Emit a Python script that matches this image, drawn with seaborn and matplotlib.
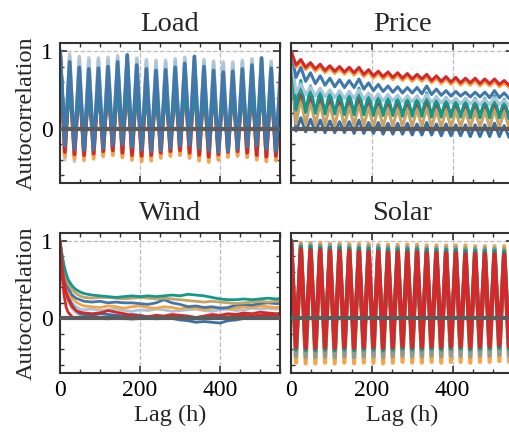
import matplotlib
matplotlib.use('Agg')
import matplotlib.pyplot as plt
import seaborn as sns
import pandas as pd
from matplotlib.ticker import MultipleLocator

RED = '#d3292b'
BLUE = '#4178ac'
TEAL = '#12998b'
ORANGE = '#f6a445'
TAN = '#c9a264'
LBLUE = '#a8c6da'
GRAY = '#c5c8cb'
DBLUE = '#3a6fa5'
SGRAY = '#8f9c96'

# lags (h): daily peaks at 0, 24, 48 ... and troughs at 12, 36, ...
day_lags = list(range(0, 553, 12))

# ---- Load: daily peaks / troughs ----
load_gray_pk = [1.00, 0.96, 0.93, 0.91, 0.91, 0.92, 0.94, 0.95, 0.91, 0.89, 0.88, 0.88, 0.90, 0.92, 0.93, 0.89, 0.87, 0.86, 0.86, 0.88, 0.90, 0.91, 0.87, 0.85]
load_gray_tr = [-0.40, -0.42, -0.41, -0.39, -0.36, -0.34, -0.37, -0.40, -0.42, -0.41, -0.38, -0.35, -0.34, -0.38, -0.41, -0.42, -0.40, -0.37, -0.35, -0.36, -0.39, -0.42, -0.41]
load_lblue_pk = [1.00, 0.92, 0.89, 0.87, 0.87, 0.88, 0.90, 0.92, 0.88, 0.86, 0.85, 0.85, 0.87, 0.89, 0.90, 0.86, 0.84, 0.83, 0.83, 0.85, 0.87, 0.88, 0.84, 0.82]
load_lblue_tr = [-0.30, -0.32, -0.31, -0.29, -0.27, -0.26, -0.28, -0.31, -0.33, -0.32, -0.29, -0.27, -0.26, -0.29, -0.32, -0.33, -0.31, -0.28, -0.27, -0.28, -0.31, -0.33, -0.32]
load_tan_pk = [1.00, 0.80, 0.77, 0.76, 0.76, 0.77, 0.78, 0.80, 0.76, 0.75, 0.74, 0.74, 0.75, 0.76, 0.78, 0.74, 0.73, 0.72, 0.72, 0.73, 0.74, 0.76, 0.72, 0.71]
load_tan_tr = [-0.33, -0.36, -0.37, -0.35, -0.32, -0.31, -0.34, -0.36, -0.38, -0.37, -0.34, -0.32, -0.31, -0.34, -0.37, -0.38, -0.36, -0.33, -0.32, -0.33, -0.36, -0.38, -0.37]
load_orange_pk = [1.00, 0.74, 0.70, 0.68, 0.68, 0.69, 0.71, 0.74, 0.69, 0.67, 0.66, 0.66, 0.68, 0.70, 0.72, 0.67, 0.65, 0.64, 0.64, 0.66, 0.68, 0.70, 0.66, 0.64]
load_orange_tr = [-0.36, -0.39, -0.40, -0.38, -0.35, -0.34, -0.37, -0.40, -0.42, -0.41, -0.37, -0.35, -0.34, -0.37, -0.41, -0.43, -0.40, -0.36, -0.35, -0.37, -0.40, -0.42, -0.41]
load_red_pk = [1.00, 0.64, 0.60, 0.58, 0.58, 0.59, 0.61, 0.64, 0.59, 0.57, 0.56, 0.56, 0.58, 0.60, 0.62, 0.58, 0.56, 0.55, 0.55, 0.57, 0.59, 0.61, 0.57, 0.55]
load_red_tr = [-0.30, -0.33, -0.34, -0.32, -0.29, -0.28, -0.31, -0.34, -0.35, -0.34, -0.31, -0.29, -0.28, -0.31, -0.34, -0.36, -0.33, -0.30, -0.29, -0.31, -0.34, -0.36, -0.35]
load_teal_pk = [1.00, 0.56, 0.52, 0.50, 0.50, 0.51, 0.53, 0.56, 0.51, 0.49, 0.48, 0.48, 0.50, 0.52, 0.54, 0.50, 0.48, 0.47, 0.47, 0.49, 0.51, 0.53, 0.49, 0.47]
load_teal_tr = [-0.14, -0.16, -0.17, -0.15, -0.13, -0.12, -0.14, -0.16, -0.18, -0.17, -0.15, -0.13, -0.12, -0.15, -0.17, -0.18, -0.16, -0.14, -0.13, -0.14, -0.16, -0.18, -0.17]
load_blue_pk = [1.00, 0.86, 0.79, 0.77, 0.78, 0.80, 0.86, 0.95, 0.82, 0.77, 0.75, 0.76, 0.79, 0.84, 0.93, 0.80, 0.75, 0.73, 0.74, 0.77, 0.82, 0.91, 0.78, 0.73]
load_blue_tr = [-0.22, -0.26, -0.28, -0.27, -0.25, -0.21, -0.20, -0.24, -0.27, -0.29, -0.28, -0.25, -0.22, -0.21, -0.25, -0.28, -0.30, -0.29, -0.26, -0.23, -0.22, -0.26, -0.29]

# ---- Price ----
price_dblue_pk = [1.00, 0.14, 0.12, 0.11, 0.10, 0.09, 0.09, 0.11, 0.08, 0.08, 0.07, 0.07, 0.07, 0.06, 0.08, 0.06, 0.06, 0.05, 0.05, 0.05, 0.05, 0.07, 0.04, 0.04]
price_dblue_tr = [-0.03, -0.04, -0.04, -0.05, -0.05, -0.05, -0.06, -0.06, -0.06, -0.07, -0.07, -0.07, -0.08, -0.08, -0.08, -0.09, -0.09, -0.09, -0.10, -0.10, -0.10, -0.10, -0.11]
price_tan_pk = [1.00, 0.40, 0.36, 0.33, 0.31, 0.30, 0.29, 0.33, 0.28, 0.27, 0.26, 0.26, 0.25, 0.25, 0.28, 0.24, 0.24, 0.23, 0.23, 0.23, 0.23, 0.25, 0.22, 0.22]
price_tan_tr = [0.06, 0.05, 0.05, 0.04, 0.04, 0.04, 0.04, 0.03, 0.03, 0.03, 0.03, 0.03, 0.03, 0.03, 0.02, 0.02, 0.02, 0.02, 0.02, 0.02, 0.02, 0.02, 0.02]
price_red2_pk = [1.00, 0.45, 0.41, 0.39, 0.37, 0.36, 0.36, 0.39, 0.35, 0.34, 0.33, 0.33, 0.32, 0.32, 0.35, 0.31, 0.31, 0.30, 0.30, 0.30, 0.30, 0.32, 0.29, 0.29]
price_red2_tr = [0.28, 0.26, 0.25, 0.24, 0.24, 0.23, 0.23, 0.23, 0.22, 0.22, 0.21, 0.21, 0.21, 0.20, 0.20, 0.20, 0.20, 0.19, 0.19, 0.19, 0.19, 0.18, 0.18]
price_teal_pk = [1.00, 0.62, 0.55, 0.51, 0.49, 0.48, 0.47, 0.52, 0.45, 0.44, 0.43, 0.42, 0.42, 0.42, 0.46, 0.41, 0.40, 0.39, 0.39, 0.39, 0.39, 0.42, 0.38, 0.37]
price_teal_tr = [0.24, 0.21, 0.20, 0.19, 0.19, 0.18, 0.18, 0.18, 0.17, 0.17, 0.17, 0.16, 0.16, 0.16, 0.15, 0.15, 0.15, 0.15, 0.14, 0.14, 0.14, 0.14, 0.13]
price_lblue_pk = [1.00, 0.58, 0.54, 0.52, 0.50, 0.49, 0.48, 0.50, 0.46, 0.45, 0.44, 0.43, 0.42, 0.42, 0.44, 0.41, 0.40, 0.39, 0.39, 0.38, 0.38, 0.40, 0.37, 0.36]
price_lblue_tr = [0.46, 0.44, 0.42, 0.41, 0.40, 0.39, 0.39, 0.38, 0.37, 0.36, 0.36, 0.35, 0.35, 0.34, 0.34, 0.33, 0.33, 0.32, 0.32, 0.31, 0.31, 0.31, 0.30]
price_blue_pk = [1.00, 0.79, 0.72, 0.68, 0.65, 0.63, 0.62, 0.64, 0.59, 0.57, 0.55, 0.54, 0.53, 0.53, 0.55, 0.51, 0.49, 0.48, 0.47, 0.47, 0.47, 0.49, 0.46, 0.45]
price_blue_tr = [0.66, 0.61, 0.58, 0.56, 0.54, 0.53, 0.53, 0.51, 0.49, 0.48, 0.47, 0.46, 0.46, 0.45, 0.44, 0.43, 0.42, 0.42, 0.41, 0.41, 0.40, 0.40, 0.39]
price_orange_pk = [1.00, 0.86, 0.82, 0.80, 0.78, 0.77, 0.76, 0.76, 0.73, 0.71, 0.70, 0.69, 0.68, 0.67, 0.67, 0.65, 0.64, 0.63, 0.62, 0.62, 0.61, 0.61, 0.59, 0.58]
price_orange_tr = [0.79, 0.76, 0.74, 0.72, 0.71, 0.70, 0.69, 0.67, 0.65, 0.64, 0.63, 0.62, 0.61, 0.61, 0.59, 0.58, 0.57, 0.56, 0.56, 0.55, 0.55, 0.54, 0.53]
price_red_pk = [1.00, 0.89, 0.85, 0.83, 0.81, 0.80, 0.79, 0.79, 0.76, 0.74, 0.73, 0.72, 0.71, 0.70, 0.70, 0.68, 0.67, 0.66, 0.65, 0.65, 0.64, 0.64, 0.62, 0.61]
price_red_tr = [0.82, 0.79, 0.77, 0.75, 0.74, 0.73, 0.72, 0.70, 0.68, 0.67, 0.66, 0.65, 0.64, 0.64, 0.62, 0.61, 0.60, 0.59, 0.59, 0.58, 0.58, 0.57, 0.56]

# ---- Solar ----
solar_orange_pk = [1.00, 0.97, 0.97, 0.97, 0.96, 0.96, 0.96, 0.96, 0.96, 0.95, 0.95, 0.95, 0.95, 0.95, 0.94, 0.94, 0.94, 0.94, 0.94, 0.93, 0.93, 0.93, 0.93, 0.93]
solar_orange_tr = [-0.57, -0.58, -0.58, -0.57, -0.58, -0.57, -0.58, -0.57, -0.57, -0.58, -0.57, -0.56, -0.57, -0.57, -0.56, -0.57, -0.56, -0.56, -0.57, -0.56, -0.56, -0.55, -0.56]
solar_gray_pk = [1.00, 0.95, 0.95, 0.94, 0.94, 0.94, 0.93, 0.93, 0.93, 0.93, 0.92, 0.92, 0.92, 0.92, 0.91, 0.91, 0.91, 0.91, 0.90, 0.90, 0.90, 0.90, 0.89, 0.89]
solar_gray_tr = [-0.49, -0.50, -0.50, -0.49, -0.50, -0.49, -0.50, -0.49, -0.49, -0.50, -0.49, -0.48, -0.49, -0.49, -0.48, -0.49, -0.48, -0.48, -0.49, -0.48, -0.48, -0.47, -0.48]
solar_teal_pk = [1.00, 0.92, 0.92, 0.91, 0.91, 0.91, 0.90, 0.90, 0.90, 0.90, 0.89, 0.89, 0.89, 0.89, 0.88, 0.88, 0.88, 0.88, 0.87, 0.87, 0.87, 0.87, 0.86, 0.86]
solar_teal_tr = [-0.40, -0.41, -0.41, -0.40, -0.41, -0.40, -0.41, -0.40, -0.40, -0.41, -0.40, -0.39, -0.40, -0.40, -0.39, -0.40, -0.39, -0.39, -0.40, -0.39, -0.39, -0.38, -0.39]
solar_red_pk = [1.00, 0.89, 0.88, 0.88, 0.87, 0.87, 0.87, 0.86, 0.86, 0.86, 0.85, 0.85, 0.85, 0.85, 0.84, 0.84, 0.84, 0.84, 0.83, 0.83, 0.83, 0.83, 0.82, 0.82]
solar_red_tr = [-0.37, -0.38, -0.38, -0.37, -0.38, -0.37, -0.38, -0.37, -0.37, -0.38, -0.37, -0.36, -0.37, -0.37, -0.36, -0.37, -0.36, -0.36, -0.37, -0.36, -0.36, -0.35, -0.36]

# ---- Wind (no daily cycle) ----
wind_lags = [0, 5, 10, 15, 20, 30, 40, 50, 60, 80, 100, 120, 140, 160, 180, 200, 220, 240, 260, 280, 300, 320, 340, 360, 380, 400, 420, 440, 460, 480, 500, 520, 540, 560]
wind_gray = [1.0, 0.66, 0.45, 0.32, 0.22, 0.12, 0.07, 0.04, 0.03, 0.02, 0.00, -0.01, 0.01, 0.00, -0.02, 0.00, 0.01, -0.01, 0.00, 0.02, 0.01, 0.00, -0.01, 0.00, 0.01, 0.02, 0.00, 0.01, 0.03, 0.02, 0.04, 0.03, 0.05, 0.04]
wind_lblue = [1.0, 0.70, 0.50, 0.38, 0.30, 0.20, 0.15, 0.12, 0.11, 0.12, 0.10, 0.11, 0.12, 0.10, 0.09, 0.11, 0.10, 0.12, 0.11, 0.09, 0.10, 0.11, 0.12, 0.10, 0.09, 0.11, 0.12, 0.10, 0.11, 0.13, 0.12, 0.13, 0.12, 0.13]
wind_dblue = [1.0, 0.70, 0.50, 0.37, 0.28, 0.17, 0.10, 0.06, 0.05, 0.04, 0.06, 0.05, 0.04, 0.03, 0.05, 0.04, 0.02, 0.03, 0.01, 0.00, -0.02, -0.03, -0.05, -0.04, -0.05, -0.06, -0.03, -0.02, 0.00, 0.02, 0.01, 0.03, 0.04, 0.03]
wind_orange = [1.0, 0.73, 0.55, 0.43, 0.35, 0.26, 0.21, 0.18, 0.16, 0.15, 0.14, 0.16, 0.15, 0.13, 0.15, 0.16, 0.14, 0.13, 0.15, 0.14, 0.12, 0.14, 0.13, 0.11, 0.13, 0.14, 0.12, 0.13, 0.15, 0.14, 0.16, 0.15, 0.14, 0.15]
wind_red2 = [1.0, 0.55, 0.30, 0.15, 0.08, 0.02, 0.00, 0.00, 0.01, 0.00, 0.01, 0.00, 0.02, 0.01, 0.00, 0.01, 0.02, 0.01, 0.00, 0.02, 0.01, 0.00, 0.01, 0.02, 0.01, 0.03, 0.02, 0.03, 0.04, 0.03, 0.04, 0.05, 0.04, 0.05]
wind_blue = [1.0, 0.75, 0.58, 0.47, 0.39, 0.30, 0.26, 0.24, 0.22, 0.21, 0.22, 0.20, 0.21, 0.20, 0.20, 0.19, 0.18, 0.20, 0.24, 0.20, 0.18, 0.15, 0.16, 0.14, 0.15, 0.13, 0.14, 0.17, 0.18, 0.17, 0.19, 0.20, 0.19, 0.20]
wind_tan = [1.0, 0.78, 0.63, 0.53, 0.45, 0.37, 0.32, 0.29, 0.27, 0.26, 0.27, 0.27, 0.26, 0.25, 0.26, 0.27, 0.26, 0.25, 0.26, 0.25, 0.24, 0.23, 0.22, 0.21, 0.22, 0.21, 0.20, 0.19, 0.20, 0.21, 0.22, 0.21, 0.22, 0.22]
wind_teal = [1.0, 0.82, 0.68, 0.58, 0.50, 0.42, 0.37, 0.34, 0.32, 0.30, 0.29, 0.28, 0.27, 0.28, 0.29, 0.28, 0.29, 0.28, 0.29, 0.30, 0.29, 0.31, 0.30, 0.29, 0.27, 0.25, 0.24, 0.24, 0.25, 0.24, 0.25, 0.26, 0.25, 0.26]
wind_red = [1.0, 0.68, 0.47, 0.34, 0.25, 0.15, 0.10, 0.08, 0.07, 0.06, 0.07, 0.10, 0.08, 0.06, 0.04, 0.03, 0.02, 0.04, 0.03, 0.05, 0.04, 0.03, 0.01, 0.03, 0.05, 0.04, 0.06, 0.05, 0.07, 0.06, 0.08, 0.07, 0.06, 0.07]


def zigzag(pk, tr):
    vals = []
    for i, p in enumerate(pk):
        vals.append(p)
        if i < len(tr):
            vals.append(tr[i])
    return vals


def long_df(lags, series):
    rows = []
    for name, vals, _ in series:
        for l, v in zip(lags, vals):
            rows.append({'lag': l, 'acf': v, 'serie': name})
    return pd.DataFrame(rows)


load_series = [
    ('gray', zigzag(load_gray_pk, load_gray_tr), GRAY),
    ('lblue', zigzag(load_lblue_pk, load_lblue_tr), LBLUE),
    ('tan', zigzag(load_tan_pk, load_tan_tr), TAN),
    ('orange', zigzag(load_orange_pk, load_orange_tr), ORANGE),
    ('red', zigzag(load_red_pk, load_red_tr), RED),
    ('teal', zigzag(load_teal_pk, load_teal_tr), TEAL),
    ('blue', zigzag(load_blue_pk, load_blue_tr), BLUE),
]
price_series = [
    ('dblue', zigzag(price_dblue_pk, price_dblue_tr), DBLUE),
    ('tan', zigzag(price_tan_pk, price_tan_tr), TAN),
    ('red2', zigzag(price_red2_pk, price_red2_tr), RED),
    ('teal', zigzag(price_teal_pk, price_teal_tr), TEAL),
    ('lblue', zigzag(price_lblue_pk, price_lblue_tr), LBLUE),
    ('blue', zigzag(price_blue_pk, price_blue_tr), BLUE),
    ('orange', zigzag(price_orange_pk, price_orange_tr), ORANGE),
    ('red', zigzag(price_red_pk, price_red_tr), RED),
]
wind_series = [
    ('gray', wind_gray, GRAY),
    ('lblue', wind_lblue, LBLUE),
    ('dblue', wind_dblue, DBLUE),
    ('orange', wind_orange, ORANGE),
    ('red2', wind_red2, RED),
    ('blue', wind_blue, BLUE),
    ('tan', wind_tan, TAN),
    ('teal', wind_teal, TEAL),
    ('red', wind_red, RED),
]
solar_series = [
    ('orange', zigzag(solar_orange_pk, solar_orange_tr), ORANGE),
    ('gray', zigzag(solar_gray_pk, solar_gray_tr), SGRAY),
    ('teal', zigzag(solar_teal_pk, solar_teal_tr), TEAL),
    ('red', zigzag(solar_red_pk, solar_red_tr), RED),
]

sns.set_theme(style='ticks')
plt.rcParams['font.family'] = ['Liberation Serif', 'DejaVu Serif']

fig = plt.figure(figsize=(5.09, 4.37), dpi=100)
W, H = 0.432, 0.320
axes = {
    'Load': fig.add_axes([0.118, 0.581, W, H]),
    'Price': fig.add_axes([0.572, 0.581, 0.436, H]),
    'Wind': fig.add_axes([0.118, 0.147, W, H]),
    'Solar': fig.add_axes([0.572, 0.147, 0.436, H]),
}
panels = [('Load', day_lags, load_series, 2.6), ('Price', day_lags, price_series, 2.2),
          ('Wind', wind_lags, wind_series, 2.0), ('Solar', day_lags, solar_series, 3.0)]

for title, lags, series, lw in panels:
    ax = axes[title]
    df = long_df(lags, series)
    pal = {n: c for n, _, c in series}
    sns.lineplot(data=df, x='lag', y='acf', hue='serie', palette=pal,
                 hue_order=[n for n, _, _ in series], estimator=None, sort=False,
                 lw=lw, legend=False, ax=ax)
    ax.axhline(0, color='#5c5c5c', lw=3, zorder=5)
    ax.set_xlim(0, 550)
    ax.set_ylim(-0.7, 1.1)
    ax.xaxis.set_major_locator(MultipleLocator(200))
    ax.xaxis.set_minor_locator(MultipleLocator(50))
    ax.yaxis.set_major_locator(MultipleLocator(1))
    ax.yaxis.set_minor_locator(MultipleLocator(0.2))
    ax.grid(True, which='major', ls='--', color='#bdbdbd', lw=0.9)
    ax.tick_params(which='both', direction='in', top=True, right=True,
                   colors='#333333', labelcolor='black', labelsize=17, pad=5)
    ax.tick_params(which='major', length=5, width=1.2)
    ax.tick_params(which='minor', length=3, width=1.0)
    for s in ax.spines.values():
        s.set_color('#333333')
        s.set_linewidth(1.5)
    ax.set_title(title, fontsize=20.5, pad=9)
    ax.set_xlabel('')
    ax.set_ylabel('')

for t in ['Load', 'Price']:
    axes[t].tick_params(labelbottom=False)
for t in ['Price', 'Solar']:
    axes[t].tick_params(labelleft=False)
for t in ['Load', 'Wind']:
    axes[t].set_ylabel('Autocorrelation', fontsize=17.5, labelpad=3)
for t in ['Wind', 'Solar']:
    axes[t].set_xlabel('Lag (h)', fontsize=17.5, labelpad=3)

fig.savefig('out.png', dpi=100)
